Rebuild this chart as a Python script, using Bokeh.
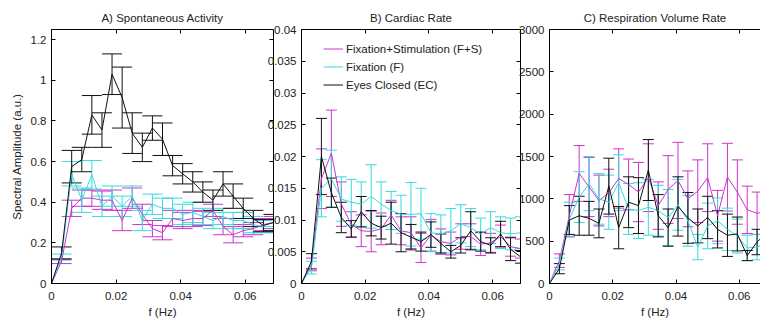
from bokeh.plotting import figure
from bokeh.models import (ColumnDataSource, Whisker, TeeHead, FixedTicker, LinearAxis,
                          PrintfTickFormatter, Range1d, Legend, LegendItem)
from bokeh.layouts import row
from bokeh.embed import file_html
from bokeh.resources import INLINE

# ---------------- data ----------------
freqs = [0, 0.003125, 0.00625, 0.009375, 0.0125, 0.015625, 0.01875, 0.021875, 0.025,
         0.028125, 0.03125, 0.034375, 0.0375, 0.040625, 0.04375, 0.046875, 0.05,
         0.053125, 0.05625, 0.059375, 0.0625, 0.065625, 0.06875]

series_names = ["Fixation+Stimulation (F+S)", "Fixation (F)", "Eyes Closed (EC)"]

# A) Spontaneous Activity
a_fs = [0, .11, .37, .42, .42, .41, .41, .31, .42, .34, .27, .25, .32, .31, .32, .32, .36, .28, .24, .26, .27, .29, .30]
a_fs_err = [0, .012, .04, .04, .04, .045, .05, .05, .05, .05, .04, .035, .04, .04, .04, .035, .03, .04, .04, .03, .03, .03, .03]
a_f = [0, .13, .54, .41, .535, .38, .43, .38, .43, .31, .39, .37, .37, .34, .35, .33, .31, .33, .31, .31, .29, .28, .28]
a_f_err = [0, .015, .06, .06, .07, .05, .05, .05, .05, .05, .05, .05, .05, .05, .05, .04, .04, .04, .04, .04, .04, .03, .03]
a_ec = [0, .15, .575, .61, .83, .755, 1.03, .915, .74, .67, .765, .71, .58, .54, .50, .45, .41, .49, .43, .37, .32, .285, .30]
a_ec_err = [0, .03, .08, .06, .095, .085, .10, .15, .10, .07, .06, .08, .05, .05, .05, .05, .05, .06, .06, .05, .04, .03, .04]

# B) Cardiac Rate
b_fs = [0, .0030, .0165, .0205, .0125, .0093, .0083, .0082, .0086, .0108, .0083, .0080, .0056, .0076, .0066, .0063, .0074, .0074, .0062, .0064, .0074, .0058, .0055]
b_fs_err = [0, .0010, .0047, .0068, .0035, .0020, .0025, .0032, .0025, .0023, .0022, .0025, .0023, .0025, .0020, .0018, .0020, .0020, .0018, .0015, .0018, .0015, .0015]
b_f = [0, .0025, .0150, .0165, .0133, .0128, .0125, .0137, .0125, .0115, .0109, .0109, .0110, .0080, .0078, .0083, .0094, .0088, .0078, .0088, .0080, .0078, .0080]
b_f_err = [0, .0010, .0045, .0045, .0035, .0036, .0035, .0050, .0035, .0030, .0030, .0050, .0040, .0030, .0030, .0035, .0030, .0030, .0025, .0025, .0025, .0025, .0025]
b_ec = [0, .0035, .0200, .0143, .0104, .0086, .0113, .0095, .0088, .0095, .0080, .0073, .0066, .0077, .0063, .0050, .0060, .0083, .0066, .0060, .0078, .0054, .0042]
b_ec_err = [0, .0012, .0060, .0023, .0024, .0013, .0024, .0020, .0018, .0033, .0030, .0020, .0015, .0020, .0015, .0010, .0012, .0030, .0015, .0012, .0020, .0018, .0010]

# C) Respiration Volume Rate
c_fs = [0, 270, 800, 1300, 1140, 980, 1070, 1240, 1170, 1080, 1250, 920, 1110, 1217, 1000, 1090, 1250, 800, 1256, 1080, 870, 830, 850]
c_fs_err = [0, 80, 250, 330, 350, 300, 280, 350, 300, 350, 400, 280, 400, 450, 330, 370, 400, 300, 400, 380, 280, 250, 250]
c_f = [0, 230, 760, 1020, 1180, 1000, 960, 1190, 880, 860, 900, 860, 780, 930, 740, 430, 680, 740, 640, 560, 420, 430, 470]
c_f_err = [0, 70, 200, 300, 320, 300, 320, 330, 300, 330, 330, 300, 330, 300, 300, 150, 270, 270, 250, 200, 150, 150, 150]
c_ec = [0, 175, 750, 800, 770, 710, 1150, 660, 960, 920, 1340, 800, 660, 910, 775, 680, 780, 640, 570, 585, 330, 490, 600]
c_ec_err = [0, 60, 170, 230, 200, 170, 330, 250, 300, 330, 360, 250, 220, 350, 300, 200, 250, 220, 250, 200, 60, 150, 150]

x_ticks = [0, 0.02, 0.04, 0.06]
a_yticks = [0, 0.2, 0.4, 0.6, 0.8, 1, 1.2]
b_yticks = [0, 0.005, 0.01, 0.015, 0.02, 0.025, 0.03, 0.035, 0.04]
c_yticks = [0, 500, 1000, 1500, 2000, 2500, 3000]

# ---------------- style ----------------
COLORS = ["#cc33cc", "#33dddd", "#111111"]
FONT = "Liberation Sans"
FS = "11.5px"
TXT = "#222222"


def style_axis(ax, ticks, labels=True, standoff=5):
    ax.major_tick_in = 4
    ax.major_tick_out = 0
    ax.minor_tick_line_color = None
    ax.axis_line_color = "black"
    ax.major_tick_line_color = "black"
    ax.major_label_text_font = FONT
    ax.major_label_text_color = TXT
    if labels:
        ax.major_label_text_font_size = FS
        ax.major_label_standoff = standoff
    else:
        # mirrored box axis: ticks only, blank labels
        ax.major_label_overrides = {t: "" for t in ticks}
        ax.major_label_text_font_size = "1px"
        ax.major_label_standoff = 0


def make_panel(title, xmax, ymax, yticks, data, cap, width, left, right,
               mirror_right=True, ylabel=None, legend=False, title_offset=0):
    p = figure(width=width, height=322, x_range=Range1d(0, xmax), y_range=Range1d(0, ymax),
               toolbar_location=None, output_backend="svg", title=title,
               min_border_left=left, min_border_right=right,
               min_border_top=29, min_border_bottom=39)
    p.outline_line_color = None
    p.background_fill_color = None
    p.border_fill_color = None
    p.grid.visible = False
    p.title.align = "center"
    p.title.text_font = FONT
    p.title.text_font_size = FS
    p.title.text_font_style = "normal"
    p.title.text_color = TXT
    p.title.standoff = 11
    p.title.offset = title_offset

    xa = p.xaxis[0]
    xa.ticker = FixedTicker(ticks=x_ticks)
    xa.formatter = PrintfTickFormatter(format="%g")
    style_axis(xa, x_ticks, True, 8)
    xa.axis_label = "f (Hz)"
    xa.axis_label_text_font = FONT
    xa.axis_label_text_font_size = FS
    xa.axis_label_text_font_style = "normal"
    xa.axis_label_text_color = TXT
    xa.axis_label_standoff = 3

    ya = p.yaxis[0]
    ya.ticker = FixedTicker(ticks=yticks)
    ya.formatter = PrintfTickFormatter(format="%g")
    style_axis(ya, yticks, True, 5)
    if ylabel:
        ya.axis_label = ylabel
        ya.axis_label_text_font = FONT
        ya.axis_label_text_font_size = FS
        ya.axis_label_text_font_style = "normal"
        ya.axis_label_text_color = TXT
        ya.axis_label_standoff = 5

    top = LinearAxis(ticker=FixedTicker(ticks=x_ticks))
    style_axis(top, x_ticks, False)
    p.add_layout(top, "above")
    if mirror_right:
        ra = LinearAxis(ticker=FixedTicker(ticks=yticks))
        style_axis(ra, yticks, False)
        p.add_layout(ra, "right")

    items = []
    for (vals, errs), color, name in zip(data, COLORS, series_names):
        src = ColumnDataSource(dict(
            x=freqs, y=vals,
            up=[v + e for v, e in zip(vals, errs)],
            lo=[v - e for v, e in zip(vals, errs)]))
        w = Whisker(source=src, base="x", upper="up", lower="lo",
                    line_color=color, line_width=1,
                    upper_head=TeeHead(size=cap, line_color=color, line_width=1),
                    lower_head=TeeHead(size=cap, line_color=color, line_width=1))
        p.add_layout(w)
        r = p.line("x", "y", source=src, line_color=color, line_width=1)
        items.append(LegendItem(label=name, renderers=[r]))

    if legend:
        lg = Legend(items=items, location=(22, 190), padding=0, margin=0, spacing=1,
                    glyph_width=20, glyph_height=17, label_height=17, label_standoff=3,
                    label_text_font=FONT, label_text_font_size=FS, label_text_color=TXT,
                    background_fill_alpha=0, border_line_color=None)
        p.add_layout(lg)
    return p


pa = make_panel("A) Spontaneous Activity", 0.06875, 1.25, a_yticks,
                [(a_fs, a_fs_err), (a_f, a_f_err), (a_ec, a_ec_err)],
                cap=20, width=280, left=51, right=7,
                ylabel="Spectral Amplitude (a.u.)")
pb = make_panel("B) Cardiac Rate", 0.06875, 0.04, b_yticks,
                [(b_fs, b_fs_err), (b_f, b_f_err), (b_ec, b_ec_err)],
                cap=11, width=263, left=36, right=7, legend=True)
pc = make_panel("C) Respiration Volume Rate", 0.0667, 3000, c_yticks,
                [(c_fs, c_fs_err), (c_f, c_f_err), (c_ec, c_ec_err)],
                cap=11, width=247, left=36, right=0, mirror_right=False, title_offset=4)

pb.margin = (0, 0, 0, -16)
pc.margin = (0, 0, 0, -14)

layout = row(pa, pb, pc)
open("out.html", "w").write(file_html(layout, INLINE))
